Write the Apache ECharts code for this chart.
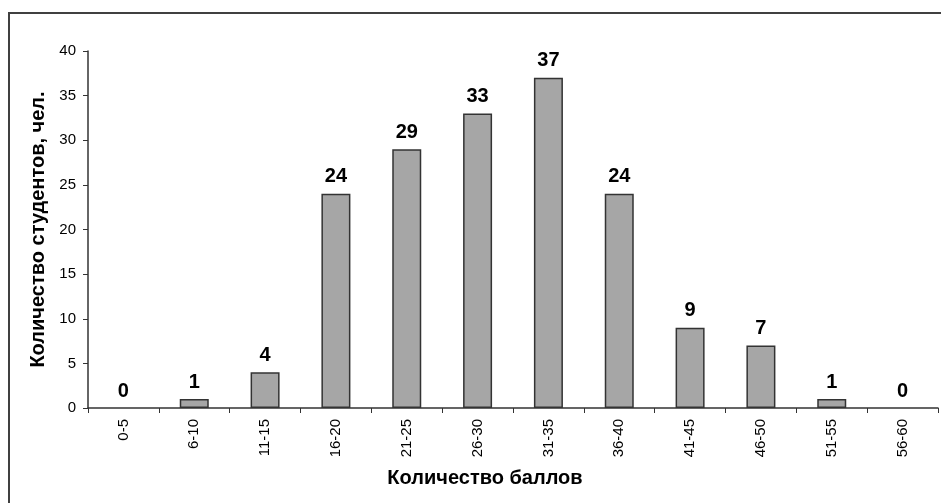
<!DOCTYPE html>
<html><head><meta charset="utf-8">
<script src="https://cdn.jsdelivr.net/npm/echarts@6/dist/echarts.min.js"></script>
<style>html,body{margin:0;padding:0;background:#fff}#c{width:941px;height:503px}</style>
</head><body><div id="c"></div>
<script>
const categories = ['0-5','6-10','11-15','16-20','21-25','26-30','31-35','36-40','41-45','46-50','51-55','56-60'];
const students = [0,1,4,24,29,33,37,24,9,7,1,0];
const yTicks = {min:0, max:40, interval:5};
const xTitle = 'Количество баллов';
const yTitle = 'Количество студентов, чел.';

const F = 'Liberation Sans, Arial, sans-serif';
const chart = echarts.init(document.getElementById('c'), null, {renderer:'canvas'});
chart.setOption({
  animation:false,
  backgroundColor:'#fff',
  graphic:[
    {type:'rect', shape:{x:9,y:13,width:1000,height:600}, style:{fill:'none', stroke:'#404040', lineWidth:2}, z:-1},
    {type:'text', x:485, y:478, style:{text:xTitle, fill:'#000', font:'bold 20px Liberation Sans', align:'center', verticalAlign:'middle'}}
  ],
  grid:{left:88, right:3, top:51, bottom:95, containLabel:false},
  xAxis:{
    type:'category', data:categories,
    axisLine:{lineStyle:{color:'#333', width:1.5}},
    axisTick:{show:true, length:5, lineStyle:{color:'#333'}},
    axisLabel:{rotate:90, color:'#000', fontFamily:F, fontSize:15, margin:11, interval:0}
  },
  yAxis:{
    type:'value', min:yTicks.min, max:yTicks.max, interval:yTicks.interval,
    name:yTitle, nameLocation:'middle', nameGap:40,
    nameTextStyle:{fontFamily:F, fontSize:20, fontWeight:'bold', color:'#000'},
    axisLine:{show:true, lineStyle:{color:'#333', width:1.5}},
    axisTick:{show:true, length:5, lineStyle:{color:'#333'}},
    splitLine:{show:false},
    axisLabel:{color:'#000', fontFamily:F, fontSize:15, margin:12}
  },
  series:[{
    type:'bar', barWidth:29,
    data:students.map(v => v === 0 ? {value:v, itemStyle:{borderWidth:0, color:'transparent'}} : v),
    itemStyle:{color:'#a6a6a6', borderColor:'#333', borderWidth:1.5},
    label:{show:true, position:'top', distance:7, fontFamily:F, fontSize:20, fontWeight:'bold', color:'#000'}
  }]
});
</script></body></html>
